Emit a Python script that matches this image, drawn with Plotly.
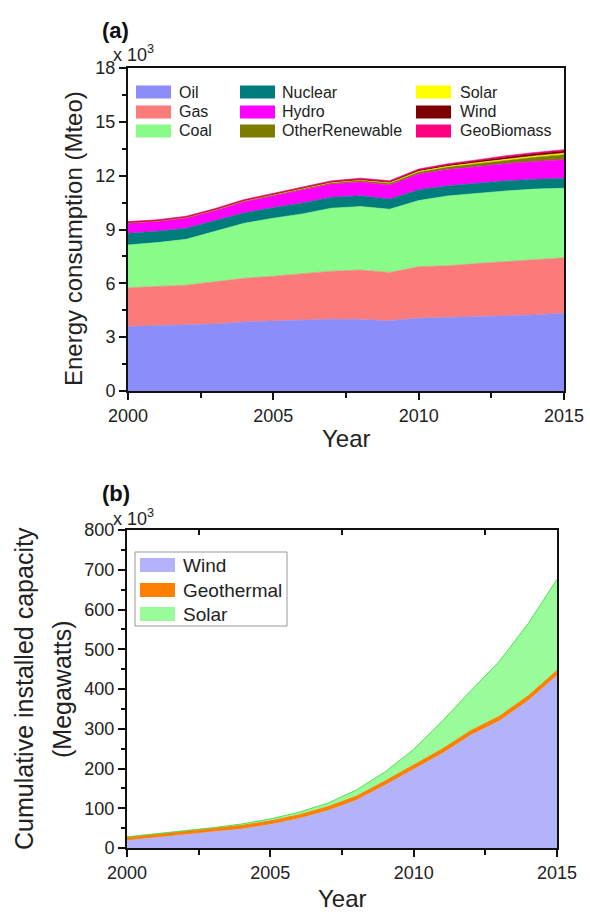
import plotly.graph_objects as go

W, H = 590, 915
FONT = "Arial, Liberation Sans, sans-serif"

# ---------------- data ----------------
years = list(range(2000, 2016))

# panel (a): energy consumption, thousands of Mteo
series_a = ["Oil", "Gas", "Coal", "Nuclear", "Hydro", "OtherRenewable", "Solar", "Wind", "GeoBiomass"]
oil = [3.60, 3.63, 3.66, 3.73, 3.85, 3.90, 3.95, 4.00, 3.98, 3.92, 4.05, 4.10, 4.15, 4.18, 4.24, 4.33]
gas = [2.15, 2.19, 2.24, 2.36, 2.43, 2.50, 2.60, 2.68, 2.76, 2.69, 2.88, 2.88, 2.95, 3.02, 3.06, 3.10]
coal = [2.39, 2.45, 2.55, 2.79, 3.07, 3.23, 3.32, 3.51, 3.54, 3.52, 3.68, 3.89, 3.92, 3.95, 3.95, 3.87]
nuclear = [0.65, 0.63, 0.62, 0.60, 0.58, 0.59, 0.61, 0.61, 0.60, 0.57, 0.60, 0.57, 0.56, 0.56, 0.55, 0.56]
hydro = [0.56, 0.55, 0.57, 0.58, 0.62, 0.66, 0.70, 0.73, 0.77, 0.78, 0.88, 0.90, 0.92, 0.96, 0.99, 1.03]
other_renew = [0.03, 0.03, 0.04, 0.04, 0.05, 0.06, 0.07, 0.08, 0.09, 0.10, 0.12, 0.14, 0.17, 0.20, 0.24, 0.28]
solar_a = [0.0, 0.0, 0.0, 0.0, 0.0, 0.0, 0.01, 0.01, 0.01, 0.02, 0.03, 0.04, 0.05, 0.06, 0.07, 0.08]
wind_a = [0.01, 0.01, 0.01, 0.02, 0.02, 0.03, 0.03, 0.04, 0.05, 0.06, 0.07, 0.08, 0.10, 0.11, 0.12, 0.13]
geobiomass = [0.05, 0.05, 0.05, 0.05, 0.05, 0.05, 0.05, 0.05, 0.06, 0.06, 0.06, 0.06, 0.06, 0.07, 0.07, 0.07]
values_a = [oil, gas, coal, nuclear, hydro, other_renew, solar_a, wind_a, geobiomass]
colors_a = ["#8c8cfa", "#fb7b7b", "#88fb88", "#007c7c", "#ff00ff", "#7c7c00", "#ffff00", "#7c0000", "#ff0080"]

# panel (b): cumulative installed capacity, thousands of MW
series_b = ["Wind", "Geothermal", "Solar"]
wind_cap = [19, 26, 33, 40, 48, 59, 74, 94, 120, 158, 197, 238, 284, 320, 371, 434]
geo_cap = [8.0, 8.2, 8.4, 8.6, 8.8, 9.0, 9.3, 9.6, 10.0, 10.3, 10.7, 11.0, 11.3, 11.7, 12.1, 12.6]
solar_cap = [1.3, 1.6, 2.0, 2.6, 3.7, 5.1, 6.7, 9.2, 15.8, 23.2, 40.3, 70.5, 100.9, 138.9, 182.0, 229.3]
values_b = [wind_cap, geo_cap, solar_cap]
colors_b = ["#b3b3fb", "#ff7f00", "#99fb99"]
lines_b = ["#b3b3fb", "#ff7f00", "#55dd55"]

x_ticks = [2000, 2005, 2010, 2015]
y_ticks_a = [0, 3, 6, 9, 12, 15, 18]
y_ticks_b = [0, 100, 200, 300, 400, 500, 600, 700, 800]


def px(x):
    return x / W


def py(y):
    return 1 - y / H


fig = go.Figure()

for name, vals, col in zip(series_a, values_a, colors_a):
    fig.add_trace(go.Scatter(
        x=years, y=vals, name=name, stackgroup="a", mode="lines",
        line=dict(width=0.6, color=col), fillcolor=col,
        xaxis="x", yaxis="y", showlegend=False))

for name, vals, col, lc in zip(series_b, values_b, colors_b, lines_b):
    fig.add_trace(go.Scatter(
        x=years, y=vals, name=name, stackgroup="b", mode="lines",
        line=dict(width=1 if name != "Wind" else 0.5, color=lc), fillcolor=col,
        xaxis="x2", yaxis="y2", showlegend=False))

# helper trace so the top-side tick axis of panel (b) is drawn
fig.add_trace(go.Scatter(x=[years[0]], y=[0], mode="markers", marker=dict(opacity=0),
                         xaxis="x3", yaxis="y2", showlegend=False, hoverinfo="skip"))

tickfont = dict(family=FONT, size=18, color="#222")
common_x = dict(range=[2000, 2015], tickvals=x_ticks, ticks="outside", ticklen=7, tickwidth=1.5,
                tickcolor="#111", showline=True, linewidth=2, linecolor="#111", mirror=True,
                showgrid=False, zeroline=False, tickfont=tickfont, automargin=False,
                minor=dict(tickvals=[2002.5, 2007.5, 2012.5], ticks="outside", ticklen=5,
                           tickwidth=1.5, tickcolor="#111"))
common_y = dict(ticks="outside", ticklen=7, tickwidth=1.5, tickcolor="#111",
                showline=True, linewidth=2, linecolor="#111", mirror=True,
                showgrid=False, zeroline=False, tickfont=tickfont, automargin=False)

fig.update_layout(
    width=W, height=H, margin=dict(l=0, r=0, t=0, b=0, autoexpand=False),
    plot_bgcolor="white", paper_bgcolor="white",
    font=dict(family=FONT, color="#222"),
    xaxis=dict(domain=[px(128), px(564)], anchor="y", **common_x),
    yaxis=dict(domain=[py(391), py(68)], anchor="x", range=[0, 18], tickvals=y_ticks_a,
               minor=dict(dtick=1.5, ticks="outside", ticklen=4, tickwidth=1.5, tickcolor="#111"),
               **common_y),
    xaxis2=dict(domain=[px(127), px(557)], anchor="y2", **common_x),
    yaxis2=dict(domain=[py(848), py(530)], anchor="x2", range=[0, 800], tickvals=y_ticks_b,
                minor=dict(dtick=50, ticks="outside", ticklen=4, tickwidth=1.5, tickcolor="#111"),
                **common_y),
    xaxis3=dict(overlaying="x2", side="top", anchor="y2", range=[2000, 2015],
                tickvals=[2002.5, 2007.5, 2012.5], ticks="inside", ticklen=5, tickwidth=1.5,
                tickcolor="#111", showticklabels=False, showline=False, showgrid=False,
                zeroline=False, automargin=False),
)

ann = []


def text(x, y, s, size, **kw):
    d = dict(x=px(x), y=py(y), xref="paper", yref="paper", text=s, showarrow=False,
             font=dict(family=FONT, size=size, color=kw.pop("color", "#222")))
    d.update(kw)
    ann.append(d)


text(100, 31, "<b>(a)</b>", 22, xanchor="left", yanchor="middle", color="#111")
text(100, 493, "<b>(b)</b>", 22, xanchor="left", yanchor="middle", color="#111")
text(111, 53, "x 10<sup>3</sup>", 18, xanchor="left", yanchor="middle")
text(111, 517, "x 10<sup>3</sup>", 18, xanchor="left", yanchor="middle")
text(74, 239, "Energy consumption (Mteo)", 24, textangle=-90, xanchor="center", yanchor="middle")
text(24, 689, "Cumulative installed capacity", 25, textangle=-90, xanchor="center", yanchor="middle")
text(62, 689, "(Megawatts)", 25, textangle=-90, xanchor="center", yanchor="middle")
text(346, 438, "Year", 24, xanchor="center", yanchor="middle")
text(342, 898, "Year", 24, xanchor="center", yanchor="middle")

shapes = []
# legend (a): three columns
col_box_x = [136, 240, 416]
col_txt_x = [177, 280, 458]
row_y = [92, 112, 131]
legend_a_order = [[0, 1, 2], [3, 4, 5], [6, 7, 8]]
for c, idxs in enumerate(legend_a_order):
    for r, i in enumerate(idxs):
        shapes.append(dict(type="rect", xref="paper", yref="paper",
                           x0=px(col_box_x[c]), x1=px(col_box_x[c] + 35),
                           y0=py(row_y[r] + 6.5), y1=py(row_y[r] - 6.5),
                           fillcolor=colors_a[i], line=dict(width=0)))
        text(col_txt_x[c], row_y[r], series_a[i], 16, xanchor="left", yanchor="middle")

# legend (b): bordered box
shapes.append(dict(type="rect", xref="paper", yref="paper", x0=px(135), x1=px(287),
                   y0=py(626), y1=py(552), fillcolor="white",
                   line=dict(color="#999", width=1), layer="above"))
for r, i in enumerate(range(3)):
    yy = [565, 590, 614][r]
    shapes.append(dict(type="rect", xref="paper", yref="paper", x0=px(140), x1=px(175),
                       y0=py(yy + 7), y1=py(yy - 7), fillcolor=colors_b[i],
                       line=dict(width=0), layer="above"))
    text(181, yy, series_b[i], 19, xanchor="left", yanchor="middle")

fig.update_layout(annotations=ann, shapes=shapes)
fig.write_html("out.html", config={"displayModeBar": False},
               post_script="document.body.style.margin='0';document.body.style.overflow='hidden';")
